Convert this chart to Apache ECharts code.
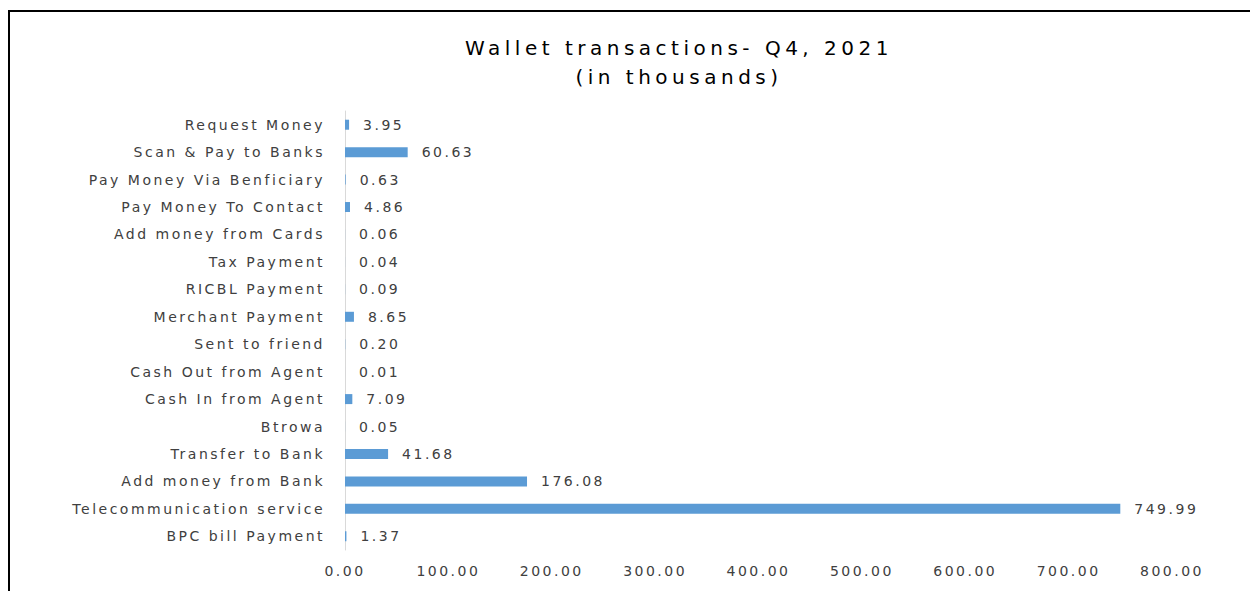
<!DOCTYPE html>
<html>
<head>
<meta charset="utf-8">
<title>Wallet transactions- Q4, 2021</title>
<script src="https://cdn.jsdelivr.net/npm/echarts@6/dist/echarts.min.js"></script>
<style>
  html, body { margin: 0; padding: 0; background: #ffffff; }
  #chart { width: 1250px; height: 591px; }
  /* wide, airy lettering for all chart text; the title gets a little more */
  #chart svg text { letter-spacing: 2.5px; }
  #chart svg text[style*="20px"] { letter-spacing: 4.5px; }
</style>
</head>
<body>
<div id="chart"></div>
<script>
// Transaction types, listed bottom to top as they stack on the category axis
const categories = [
  'BPC bill Payment',
  'Telecommunication service',
  'Add money from Bank',
  'Transfer to Bank',
  'Btrowa',
  'Cash In from Agent',
  'Cash Out from Agent',
  'Sent to friend',
  'Merchant Payment',
  'RICBL Payment',
  'Tax Payment',
  'Add money from Cards',
  'Pay Money To Contact',
  'Pay Money Via Benficiary',
  'Scan & Pay to Banks',
  'Request Money'
];

// Transaction counts in thousands, same order as categories
const transactions = [
  1.37, 749.99, 176.08, 41.68, 0.05, 7.09, 0.01, 0.20,
  8.65, 0.09, 0.04, 0.06, 4.86, 0.63, 60.63, 3.95
];

// Value axis ticks
const valueTicks = [0, 100, 200, 300, 400, 500, 600, 700, 800];

const labelFont = 'DejaVu Sans, Verdana, sans-serif';

const chart = echarts.init(document.getElementById('chart'), null, { renderer: 'svg' });

chart.setOption({
  animation: false,
  backgroundColor: '#ffffff',
  title: {
    text: 'Wallet transactions- Q4, 2021\n(in thousands)',
    left: 679,
    top: 33,
    padding: 0,
    textAlign: 'center',
    textStyle: {
      fontFamily: labelFont,
      fontSize: 20,
      fontWeight: 'normal',
      color: '#000000',
      lineHeight: 29
    }
  },
  graphic: [{
    type: 'rect',
    shape: { x: 9, y: 11, width: 1400, height: 800 },
    style: { fill: 'none', stroke: '#000000', lineWidth: 2 },
    silent: true
  }],
  grid: {
    left: 345,
    right: 78,
    top: 111,
    bottom: 41,
    containLabel: false
  },
  xAxis: {
    type: 'value',
    min: valueTicks[0],
    max: valueTicks[valueTicks.length - 1],
    interval: valueTicks[1] - valueTicks[0],
    axisLine: { show: false },
    axisTick: { show: false },
    splitLine: { show: false },
    axisLabel: {
      margin: 14,
      fontFamily: labelFont,
      fontSize: 14,
      color: '#404040',
      formatter: v => v.toFixed(2)
    }
  },
  yAxis: {
    type: 'category',
    data: categories,
    axisLine: { show: true, lineStyle: { color: '#d9d9d9', width: 1 } },
    axisTick: { show: false },
    axisLabel: {
      margin: 20,
      fontFamily: labelFont,
      fontSize: 14,
      color: '#404040'
    }
  },
  series: [{
    type: 'bar',
    data: transactions,
    barWidth: 10,
    itemStyle: { color: '#5b9bd5' },
    label: {
      show: true,
      position: 'right',
      distance: 14,
      fontFamily: labelFont,
      fontSize: 14,
      color: '#404040',
      formatter: p => p.value.toFixed(2)
    }
  }]
});
</script>
</body>
</html>
